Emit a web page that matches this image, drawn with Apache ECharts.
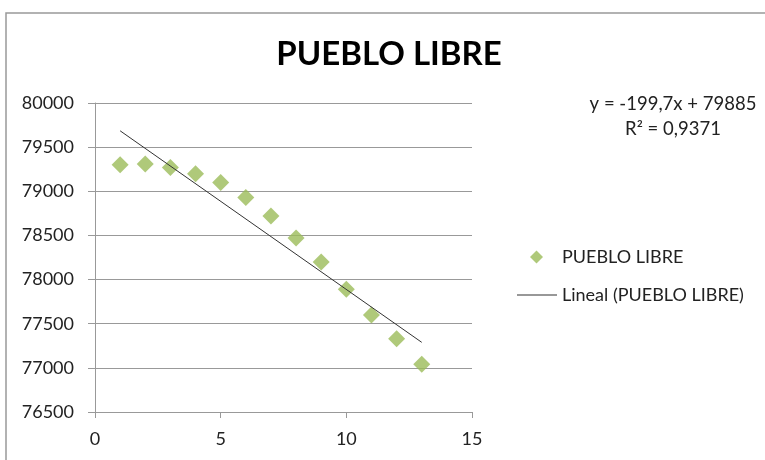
<!DOCTYPE html>
<html>
<head>
<meta charset="utf-8">
<script src="https://cdn.jsdelivr.net/npm/echarts@6/dist/echarts.min.js"></script>
<style>
  html, body { margin: 0; padding: 0; background: #fff; }
  #chart { width: 765px; height: 460px; }
</style>
</head>
<body>
<div id="chart"></div>
<script>
  // datos
  const seriesName = 'PUEBLO LIBRE';
  const trendName = 'Lineal (PUEBLO LIBRE)';
  const xValues = [1, 2, 3, 4, 5, 6, 7, 8, 9, 10, 11, 12, 13];
  const yValues = [79300, 79310, 79270, 79200, 79100, 78930, 78720, 78470, 78200, 77890, 77600, 77330, 77040];
  // extremos de la línea de tendencia
  const trendX = [1, 13];
  const trendY = [79685, 77289];
  const equationLines = ['y = -199,7x + 79885', 'R² = 0,9371'];

  const font = 'Lato, "Open Sans", sans-serif';
  const green = '#9bbb59';

  const chart = echarts.init(document.getElementById('chart'));

  const option = {
    backgroundColor: '#fff',
    animation: false,
    title: {
      text: seriesName,
      left: 384,
      textAlign: 'center',
      top: 33,
      textStyle: { fontFamily: font, fontWeight: 'bold', fontSize: 33, color: '#000' }
    },
    grid: { left: 95, right: 293, top: 103, bottom: 48 },
    xAxis: {
      type: 'value',
      min: 0,
      max: 15,
      interval: 5,
      axisLine: { lineStyle: { color: '#999', width: 1 } },
      axisTick: { show: true, length: 6, lineStyle: { color: '#999' } },
      splitLine: { show: false },
      axisLabel: { fontFamily: font, fontSize: 18, color: '#222', margin: 18 }
    },
    yAxis: {
      type: 'value',
      min: 76500,
      max: 80000,
      interval: 500,
      axisLine: { show: true, lineStyle: { color: '#999', width: 1 } },
      axisTick: { show: true, length: 7, lineStyle: { color: '#999' } },
      splitLine: { show: true, lineStyle: { color: '#999', width: 1 } },
      axisLabel: {
        fontFamily: font, fontSize: 18, color: '#222', margin: 21,
        formatter: v => String(v)
      }
    },
    legend: [
      {
        data: [seriesName],
        left: 525,
        top: 243,
        itemWidth: 13,
        itemHeight: 13,
        textStyle: { fontFamily: font, fontSize: 18, color: '#222', padding: [0, 0, 0, 14] }
      },
      {
        data: [{ name: trendName, icon: 'rect' }],
        left: 512,
        top: 281,
        itemWidth: 40,
        itemHeight: 1,
        textStyle: { fontFamily: font, fontSize: 18, color: '#222' }
      }
    ],
    graphic: [
      {
        type: 'rect',
        shape: { x: 6, y: 13, width: 800, height: 500 },
        style: { fill: 'none', stroke: '#999', lineWidth: 1.5 },
        silent: true
      },
      {
        type: 'text',
        x: 673,
        y: 92,
        style: {
          text: equationLines.join('\n'),
          align: 'center',
          verticalAlign: 'top',
          lineHeight: 25,
          font: '18.5px ' + font,
          fill: '#222'
        }
      }
    ],
    series: [
      {
        name: seriesName,
        type: 'scatter',
        symbol: 'diamond',
        symbolSize: 17,
        itemStyle: { color: green },
        data: xValues.map((x, i) => [x, yValues[i]])
      },
      {
        name: trendName,
        type: 'line',
        symbol: 'none',
        lineStyle: { color: '#333', width: 1 },
        itemStyle: { color: '#333' },
        data: trendX.map((x, i) => [x, trendY[i]])
      }
    ]
  };

  chart.setOption(option);
</script>
</body>
</html>
